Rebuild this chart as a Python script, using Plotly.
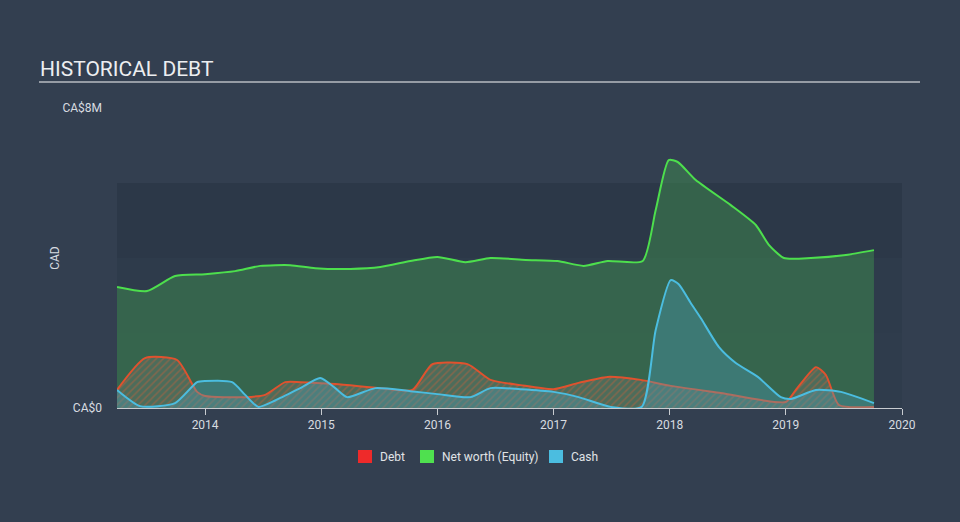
import plotly.graph_objects as go

def yr(px):
    return 2014 + (px - 205) / 116.0

# Net worth (Equity), CA$M
eq_px = [117,147,175,205,235,260,290,315,350,380,410,437,465,490,525,557,583,607,642,655,668,677,695,730,755,768,783,810,845,873]
eq_val = [3.23,3.12,3.52,3.57,3.65,3.79,3.81,3.73,3.71,3.76,3.92,4.03,3.89,4.0,3.95,3.92,3.79,3.92,3.92,5.28,6.61,6.56,6.08,5.41,4.88,4.35,4.0,4.0,4.08,4.21]

# Cash, CA$M
cash_px = [117,140,175,197,205,232,245,258,275,300,320,335,347,375,410,437,470,490,520,553,578,610,641,655,670,678,690,700,718,735,757,780,790,815,840,873]
cash_val = [0.48,0.05,0.13,0.69,0.72,0.69,0.35,0.03,0.2,0.53,0.8,0.53,0.29,0.53,0.45,0.37,0.29,0.53,0.5,0.43,0.29,0.03,0.03,2.08,3.41,3.3,2.8,2.4,1.63,1.2,0.83,0.29,0.24,0.48,0.43,0.13]

# Debt, CA$M
debt_px = [117,145,177,197,205,245,265,285,300,335,380,412,432,467,490,520,553,578,607,640,670,720,785,795,815,825,838,873]
debt_val = [0.48,1.33,1.28,0.43,0.32,0.29,0.35,0.69,0.69,0.64,0.53,0.48,1.17,1.17,0.75,0.61,0.5,0.67,0.83,0.75,0.59,0.4,0.16,0.48,1.09,0.88,0.08,0.03]

legend_names = ['Debt', 'Net worth (Equity)', 'Cash']
legend_colors = ['#ee2a2a', '#4fe04f', '#4bbde0']

eq_x = [yr(p) for p in eq_px]
cash_x = [yr(p) for p in cash_px]
debt_x = [yr(p) for p in debt_px]
eq_y = [v * 1e6 for v in eq_val]
cash_y = [v * 1e6 for v in cash_val]
debt_y = [v * 1e6 for v in debt_val]

years = [2014, 2015, 2016, 2017, 2018, 2019, 2020]
x0, x1 = yr(117), 2020.0

def px_x(p):
    return (p - 117) / 785.0

def px_y(p):
    return (408 - p) / 300.0

BG = '#333f50'
fig = go.Figure()

fig.add_trace(go.Scatter(x=eq_x, y=eq_y, mode='lines', name='Net worth (Equity)',
                         line=dict(color='#4ddf4d', width=2, shape='spline', smoothing=0.6),
                         fill='tozeroy', fillcolor='rgba(64,150,80,0.45)', showlegend=False, hoverinfo='skip'))
fig.add_trace(go.Scatter(x=debt_x, y=debt_y, mode='lines', name='Debt',
                         line=dict(color='#e0522e', width=2, shape='spline', smoothing=0.6),
                         fill='tozeroy', fillcolor='rgba(150,120,110,0.35)',
                         fillpattern=dict(shape='/', fgcolor='rgba(215,95,55,0.75)', bgcolor='rgba(120,120,115,0.35)', size=5, solidity=0.3),
                         showlegend=False, hoverinfo='skip'))
fig.add_trace(go.Scatter(x=cash_x, y=cash_y, mode='lines', name='Cash',
                         line=dict(color='#4bbde0', width=2, shape='spline', smoothing=0.6),
                         fill='tozeroy', fillcolor='rgba(75,160,190,0.35)', showlegend=False, hoverinfo='skip'))

shapes = []
for lo, hi, c in [(0, 2e6, '#2f3c4c'), (2e6, 4e6, '#2e3b4b'), (4e6, 6e6, '#2c3848')]:
    shapes.append(dict(type='rect', xref='x', yref='y', x0=x0, x1=x1, y0=lo, y1=hi, fillcolor=c, line_width=0, layer='below'))
shapes.append(dict(type='line', xref='paper', yref='paper', x0=px_x(39), x1=px_x(920), y0=px_y(82), y1=px_y(82),
                   line=dict(color='#b8bcc2', width=1.5)))

annotations = [dict(text='HISTORICAL DEBT', xref='paper', yref='paper', x=px_x(38), y=px_y(69),
                    xanchor='left', yanchor='middle', showarrow=False,
                    font=dict(size=21, color='#eceef0', family='Roboto'))]

# manual legend (squares + labels)
sq_left = [358, 420, 549]
for name, col, lx in zip(legend_names, legend_colors, sq_left):
    shapes.append(dict(type='rect', xref='paper', yref='paper', x0=px_x(lx), x1=px_x(lx + 14),
                       y0=px_y(463), y1=px_y(450), fillcolor=col, line_width=0))
    annotations.append(dict(text=name, xref='paper', yref='paper', x=px_x(lx + 20), y=px_y(456.5),
                            xanchor='left', yanchor='middle', showarrow=False,
                            font=dict(size=12, color='#e0e3e6', family='Roboto')))

fig.update_layout(
    width=960, height=522,
    margin=dict(l=117, r=58, t=108, b=114),
    paper_bgcolor=BG, plot_bgcolor=BG,
    font=dict(family='Roboto', color='#d8dce0', size=12),
    shapes=shapes,
    showlegend=False,
    annotations=annotations,
    xaxis=dict(range=[x0, x1], tickmode='array', tickvals=years, ticktext=[str(y) for y in years],
               showgrid=False, zeroline=False, showline=True, linecolor='#c8ccd0', linewidth=1,
               ticks='outside', ticklen=6, tickcolor='#c8ccd0', tickfont=dict(size=12, color='#d8dce0')),
    yaxis=dict(range=[0, 8e6], tickmode='array', tickvals=[0, 8e6], ticktext=['CA$0', 'CA$8M'],
               showgrid=False, zeroline=False, showline=False, ticks='', ticklabelstandoff=14,
               title=dict(text='CAD', font=dict(size=12, color='#d8dce0'), standoff=0),
               tickfont=dict(size=12, color='#d8dce0')),
)

fig.write_html('out.html')
